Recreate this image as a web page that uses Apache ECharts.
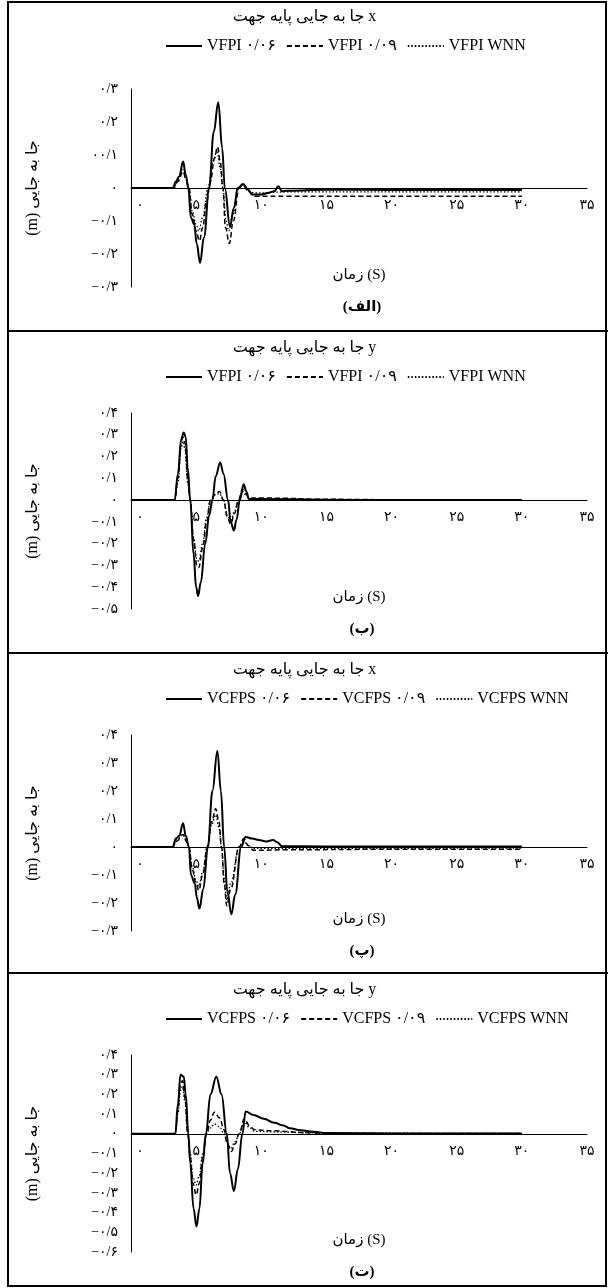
<!DOCTYPE html>
<html><head><meta charset="utf-8">
<script src="https://cdn.jsdelivr.net/npm/echarts@6/dist/echarts.min.js"></script>
<style>html,body{margin:0;padding:0;background:#fff}#c{width:609px;height:1288px}</style>
</head><body><div id="c"></div>
<script>
// ---------- DATA ----------
const xTickLabels = ['۰','۵','۱۰','۱۵','۲۰','۲۵','۳۰','۳۵'];
const yLabels1 = ['−۰/۳','−۰/۲','−۰/۱','۰','۰۰/۱','۰/۲','۰/۳'];            // -0.3 .. 0.3
const yLabels2 = ['−۰/۵','−۰/۴','−۰/۳','−۰/۲','−۰/۱','۰','۰/۱','۰/۲','۰/۳','۰/۴']; // -0.5 .. 0.4
const yLabels3 = ['−۰/۳','−۰/۲','−۰/۱','۰','۰/۱','۰/۲','۰/۳','۰/۴'];      // -0.3 .. 0.4
const yLabels4 = ['−۰/۶','−۰/۵','−۰/۴','−۰/۳','−۰/۲','−۰/۱','۰','۰/۱','۰/۲','۰/۳','۰/۴']; // -0.6 .. 0.4

const titles = ['جا به جایی پایه جهت x','جا به جایی پایه جهت y','جا به جایی پایه جهت x','جا به جایی پایه جهت y'];
const panelLetters = ['(الف)','(ب)','(پ)','(ت)'];
const namesVFPI = ['VFPI ۰/۰۶','VFPI ۰/۰۹','VFPI WNN'];
const namesVCFPS = ['VCFPS ۰/۰۶','VCFPS ۰/۰۹','VCFPS WNN'];
const yAxisName = '(m) جا به جایی';
const xAxisName = 'زمان (S)';

// panel 1: x-direction, VFPI   [time s, displacement m]
const p1Solid = [[0,0],[3.2,0],[3.45,0.02],[3.7,0.035],[4.0,0.08],[4.2,0.04],[4.4,0],[4.6,-0.09],[4.85,-0.11],[5.05,-0.17],[5.3,-0.227],[5.6,-0.15],[6.0,0],[6.35,0.17],[6.7,0.26],[7.0,0.12],[7.2,0],[7.6,-0.117],[7.9,-0.06],[8.2,0],[8.6,0.012],[9.0,-0.005],[9.3,-0.02],[10,-0.02],[10.5,-0.015],[11.0,-0.01],[11.3,0.005],[11.6,-0.01],[12,-0.008],[15,-0.005],[20,-0.006],[25,-0.006],[30,-0.006]];
const p1Dash  = [[0,0],[3.3,0],[3.6,0.02],[4.0,0.05],[4.2,0.03],[4.45,0],[4.7,-0.08],[5.0,-0.13],[5.25,-0.16],[5.5,-0.12],[5.8,-0.04],[6.1,0.02],[6.4,0.09],[6.65,0.125],[6.85,0.08],[7.05,0],[7.25,-0.12],[7.55,-0.168],[7.85,-0.1],[8.3,0],[8.6,0.01],[9.0,-0.01],[9.5,-0.025],[12,-0.025],[20,-0.025],[30,-0.025]];
const p1Dot   = [[0,0],[3.3,0],[3.6,0.025],[4.0,0.055],[4.2,0.03],[4.45,0],[4.7,-0.07],[5.0,-0.11],[5.2,-0.13],[5.5,-0.09],[5.9,0],[6.3,0.08],[6.6,0.115],[6.85,0.06],[7.05,0],[7.3,-0.1],[7.5,-0.13],[7.8,-0.08],[8.2,0],[8.6,0.01],[9.0,-0.01],[9.5,-0.015],[12,-0.012],[20,-0.012],[30,-0.012]];

// panel 2: y-direction, VFPI
const p2Solid = [[0,0],[3.35,0],[3.6,0.12],[3.85,0.28],[4.05,0.31],[4.2,0.29],[4.35,0.15],[4.55,0],[4.8,-0.25],[5.0,-0.4],[5.15,-0.44],[5.35,-0.38],[5.7,-0.2],[6.0,-0.07],[6.25,0],[6.5,0.11],[6.85,0.173],[7.1,0.12],[7.45,0],[7.65,-0.1],[7.9,-0.14],[8.1,-0.09],[8.35,0],[8.65,0.073],[8.85,0.04],[9.05,0.005],[10,0.005],[15,0.002],[20,0],[30,0]];
const p2Dash  = [[0,0],[3.35,0],[3.6,0.1],[3.85,0.26],[3.98,0.29],[4.15,0.26],[4.35,0.1],[4.55,0],[4.8,-0.18],[5.05,-0.3],[5.2,-0.31],[5.5,-0.22],[5.8,-0.1],[6.1,0],[6.5,0.03],[6.8,0.04],[7.1,0],[7.4,-0.08],[7.65,-0.11],[7.95,-0.06],[8.25,0],[8.55,0.05],[8.8,0.03],[9.1,0.01],[10,0.01],[12,0.008],[14,0.004],[20,0.002],[30,0]];
const p2Dot   = [[0,0],[3.35,0],[3.6,0.08],[3.85,0.24],[4.0,0.27],[4.15,0.23],[4.35,0.08],[4.55,0],[4.8,-0.17],[5.05,-0.27],[5.2,-0.28],[5.5,-0.2],[5.8,-0.08],[6.1,0],[6.5,0.025],[6.8,0.03],[7.1,0],[7.4,-0.07],[7.65,-0.1],[7.95,-0.05],[8.25,0],[8.55,0.04],[8.8,0.025],[9.1,0.005],[12,0.003],[20,0],[30,0]];

// panel 3: x-direction, VCFPS
const p3Solid = [[0,0],[3.2,0],[3.45,0.03],[3.7,0.04],[4.0,0.085],[4.2,0.04],[4.45,0],[4.6,-0.1],[4.9,-0.13],[5.05,-0.18],[5.25,-0.22],[5.55,-0.15],[5.9,0],[6.25,0.2],[6.63,0.343],[6.9,0.2],[7.15,0],[7.4,-0.16],[7.7,-0.24],[8.0,-0.17],[8.45,0],[8.8,0.036],[9.3,0.03],[9.8,0.025],[10.4,0.02],[10.9,0.025],[11.2,0.018],[11.6,0.003],[15,0.002],[20,0.002],[30,0.002]];
const p3Dash  = [[0,0],[3.2,0],[3.5,0.02],[4.0,0.045],[4.25,0.02],[4.45,0],[4.7,-0.08],[5.0,-0.13],[5.2,-0.155],[5.5,-0.1],[5.85,0],[6.2,0.09],[6.5,0.137],[6.75,0.09],[6.95,0],[7.15,-0.13],[7.35,-0.21],[7.65,-0.15],[8.3,0],[8.65,0.03],[9.0,0.005],[9.4,-0.012],[12,-0.01],[20,-0.008],[30,-0.008]];
const p3Dot   = [[0,0],[3.2,0],[3.5,0.025],[4.0,0.045],[4.25,0.02],[4.45,0],[4.7,-0.07],[5.0,-0.12],[5.2,-0.14],[5.5,-0.09],[5.85,0],[6.2,0.08],[6.5,0.115],[6.75,0.07],[6.95,0],[7.15,-0.11],[7.35,-0.19],[7.65,-0.13],[8.3,0],[8.65,0.02],[9.0,0.005],[9.4,-0.005],[30,-0.004]];

// panel 4: y-direction, VCFPS
const p4Solid = [[0,0],[3.4,0],[3.6,0.15],[3.8,0.3],[4.05,0.29],[4.2,0.2],[4.4,0],[4.55,-0.15],[4.8,-0.38],[5.03,-0.47],[5.25,-0.38],[5.5,-0.15],[5.75,0],[6.1,0.2],[6.55,0.29],[6.95,0.2],[7.35,0],[7.6,-0.2],[7.9,-0.29],[8.2,-0.18],[8.55,0],[8.8,0.113],[9.4,0.096],[10.2,0.076],[11,0.056],[11.7,0.042],[12.2,0.028],[13,0.018],[14,0.01],[15,0.004],[20,0.002],[30,0.002]];
const p4Dash  = [[0,0],[3.4,0],[3.6,0.12],[3.8,0.25],[3.95,0.27],[4.15,0.18],[4.35,0],[4.55,-0.12],[4.75,-0.25],[5.0,-0.31],[5.25,-0.25],[5.5,-0.12],[5.8,0],[6.1,0.07],[6.4,0.11],[6.8,0.08],[7.15,0.02],[7.35,-0.04],[7.7,-0.09],[8.0,-0.05],[8.3,0],[8.7,0.076],[9.1,0.04],[9.5,0.02],[11,0.015],[12,0.012],[13,0.006],[15,0.003],[20,0.002],[30,0.002]];
const p4Dot   = [[0,0],[3.4,0],[3.6,0.1],[3.8,0.22],[3.95,0.24],[4.15,0.16],[4.35,0],[4.55,-0.1],[4.75,-0.22],[5.0,-0.26],[5.25,-0.21],[5.5,-0.1],[5.8,0],[6.1,0.03],[6.4,0.05],[6.8,0.035],[7.15,0],[7.4,-0.05],[7.65,-0.075],[8.0,-0.04],[8.3,0],[8.7,0.06],[9.1,0.03],[9.5,0.012],[12,0.008],[15,0.003],[30,0.002]];

// ---------- LAYOUT ----------
const FONT = "'Liberation Serif','DejaVu Sans',serif";
const panels = [
  {top: 89,  h: 198, min: -0.3, max: 0.3, labels: yLabels1, names: namesVFPI,  data: [p1Solid, p1Dash, p1Dot], sepTop: 0},
  {top: 413, h: 196, min: -0.5, max: 0.4, labels: yLabels2, names: namesVFPI,  data: [p2Solid, p2Dash, p2Dot], sepTop: 331},
  {top: 735, h: 196, min: -0.3, max: 0.4, labels: yLabels3, names: namesVCFPS, data: [p3Solid, p3Dash, p3Dot], sepTop: 653},
  {top: 1055,h: 197, min: -0.6, max: 0.4, labels: yLabels4, names: namesVCFPS, data: [p4Solid, p4Dash, p4Dot], sepTop: 973}
];
const styles = [
  {type: 'solid', width: 2},
  {type: [5, 3], width: 1.5},
  {type: [1.5, 2], width: 1.3}
];
const GL = 131, GR = 587;

const grid = [], xAxis = [], yAxis = [], series = [], legend = [], graphic = [];
panels.forEach((p, i) => {
  grid.push({left: GL, width: GR - GL, top: p.top, height: p.h});
  // place the x axis on the zero line (offset from the grid bottom)
  const zeroOffset = -Math.round(p.h * (-p.min) / (p.max - p.min));
  xAxis.push({
    gridIndex: i, type: 'value', min: 0, max: 35, interval: 5,
    position: 'bottom', offset: zeroOffset,
    axisLine: {onZero: false, lineStyle: {color: '#000', width: 1}},
    axisTick: {show: false}, splitLine: {show: false},
    axisLabel: {
      color: '#000', fontSize: 14, fontFamily: FONT, margin: 10,
      formatter: v => v === 0 ? '{z|' + xTickLabels[0] + '}' : xTickLabels[Math.round(v / 5)],
      rich: {z: {padding: [0, 0, 0, 18], fontSize: 14, fontFamily: FONT, color: '#000'}}
    }
  });
  const minI = Math.round(p.min * 10);
  yAxis.push({
    gridIndex: i, type: 'value', min: p.min, max: p.max, interval: 0.1,
    axisLine: {show: true, onZero: false, lineStyle: {color: '#000', width: 1}},
    axisTick: {show: false}, splitLine: {show: false},
    axisLabel: {color: '#000', fontSize: 14, fontFamily: FONT, margin: 13,
      formatter: v => p.labels[Math.round(v * 10) - minI] || ''},
    name: yAxisName, nameLocation: 'middle', nameRotate: 90, nameGap: 90,
    nameTextStyle: {color: '#000', fontSize: 16, fontFamily: FONT}
  });
  p.data.forEach((d, k) => {
    series.push({
      name: p.names[k], type: 'line', xAxisIndex: i, yAxisIndex: i,
      data: d, symbol: 'none', showSymbol: false,
      smooth: 0.4, smoothMonotone: 'x',
      lineStyle: {color: '#000', type: styles[k].type, width: styles[k].width},
      itemStyle: {color: '#000'}, z: 3 - k
    });
  });
  const top = p.sepTop;
  legend.push({
    data: p.names, left: 160, top: top + 33, itemWidth: 36, itemHeight: 12, itemGap: 10,
    itemStyle: {opacity: 0, borderWidth: 0},
    textStyle: {color: '#000', fontSize: 16, fontFamily: FONT},
    selectedMode: false
  });
  graphic.push({type: 'text', left: 'center', top: top + 9,
    style: {text: titles[i], fill: '#000', font: '16px ' + FONT}});
  graphic.push({type: 'text', x: 359, y: p.top + p.h - 12,
    style: {text: xAxisName, fill: '#000', font: '15px ' + FONT, align: 'center', verticalAlign: 'middle'}});
  graphic.push({type: 'text', x: 362, y: p.top + p.h + 20,
    style: {text: panelLetters[i], fill: '#000', font: 'bold 15px ' + FONT, align: 'center', verticalAlign: 'middle'}});
  if (i > 0) {
    graphic.push({type: 'line', shape: {x1: 8, y1: top, x2: 608, y2: top}, style: {stroke: '#000', lineWidth: 2}});
  }
});
graphic.push({type: 'rect', shape: {x: 8, y: 2, width: 598, height: 1284}, style: {fill: 'none', stroke: '#000', lineWidth: 2}});

const chart = echarts.init(document.getElementById('c'), null, {renderer: 'canvas'});
chart.setOption({animation: false, backgroundColor: '#fff', grid, xAxis, yAxis, series, legend, graphic});
</script></body></html>
